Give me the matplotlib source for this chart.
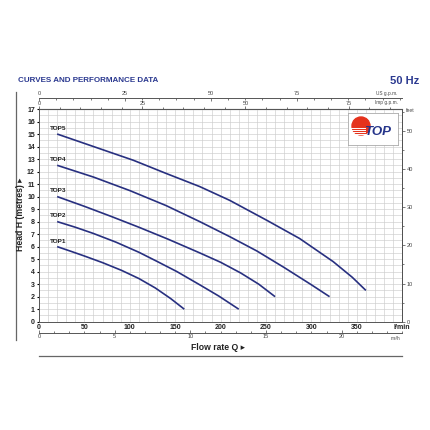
import numpy as np
import matplotlib.pyplot as plt
from matplotlib.lines import Line2D
from matplotlib.patches import Circle

# curve data: flow (l/min), head (m)
top1_q = [20, 35, 50, 70, 91, 110, 128, 145, 160]
top1_h = [6.0, 5.63, 5.25, 4.72, 4.1, 3.45, 2.7, 1.85, 1.0]
top2_q = [20, 40, 60, 85, 110, 130, 152, 177, 198, 220]
top2_h = [8.0, 7.55, 7.05, 6.35, 5.55, 4.82, 4.0, 2.95, 2.05, 1.0]
top3_q = [20, 50, 80, 110, 142, 177, 200, 222, 242, 260]
top3_h = [10.0, 9.22, 8.4, 7.55, 6.6, 5.5, 4.75, 3.9, 3.0, 2.0]
top4_q = [20, 60, 100, 140, 177, 210, 240, 270, 300, 320]
top4_h = [12.5, 11.56, 10.48, 9.28, 8.0, 6.8, 5.65, 4.33, 2.95, 2.0]
top5_q = [20, 60, 104, 140, 177, 210, 251, 287, 324, 345, 360]
top5_h = [15.0, 14.0, 12.9, 11.85, 10.8, 9.7, 8.1, 6.65, 4.8, 3.55, 2.5]

models = ["TOP1", "TOP2", "TOP3", "TOP4", "TOP5"]
curves = [(top1_q, top1_h), (top2_q, top2_h), (top3_q, top3_h),
          (top4_q, top4_h), (top5_q, top5_h)]

lpm_ticks = [0, 50, 100, 150, 200, 250, 300, 350]
head_ticks = list(range(0, 18))
feet_ticks = [0, 10, 20, 30, 40, 50]
usgpm_ticks = [0, 25, 50, 75]
impgpm_ticks = [0, 25, 50, 75]
m3h_ticks = [0, 5, 10, 15, 20]

NAVY = "#283080"
TITLE = "#2b3990"
TXT = "#222222"
W = H = 430


def fx(px):
    return px / W


def fy(py):
    return 1 - py / H


plt.rcParams['font.family'] = ['Liberation Sans', 'DejaVu Sans']
fig = plt.figure(figsize=(4.3, 4.3), dpi=100)
ax = fig.add_axes([fx(39), fy(321.7), fx(402.2) - fx(39), fy(109) - fy(321.7)])
ax.set_xlim(0, 400)
ax.set_ylim(0, 17)

# grid
ax.set_xticks(np.arange(0, 401, 10), minor=True)
ax.set_yticks(np.arange(0, 17.01, 0.5), minor=True)
ax.grid(which='both', color='#cccccc', lw=0.45)
ax.set_axisbelow(True)

ax.set_xticks(lpm_ticks + [400])
ax.set_xticklabels([str(t) for t in lpm_ticks] + ['l/min'], fontsize=5,
                   fontweight='bold', color=TXT)
ax.set_yticks(head_ticks)
ax.set_yticklabels([str(t) for t in head_ticks], fontsize=5,
                   fontweight='bold', color=TXT)
ax.tick_params(which='both', length=0, pad=2)
ax.tick_params(axis='y', which='major', length=1.5, pad=1.5)
for s in ax.spines.values():
    s.set_color('#555555')
    s.set_linewidth(0.7)

for name, (q, h) in zip(models, curves):
    ax.plot(q, h, color=NAVY, lw=1.2, solid_capstyle='butt')
    ax.text(12.5, h[0] + 0.25, name, fontsize=4.6, fontweight='bold',
            color=TXT, ha='left', va='bottom')

# feet on the right
axf = ax.secondary_yaxis('right', functions=(lambda m: m / 0.3048, lambda f: f * 0.3048))
axf.set_yticks(feet_ticks)
axf.set_yticks(np.arange(0, 56, 5), minor=True)
axf.tick_params(which='major', length=2.5, labelsize=4, pad=1, colors='#444444', width=0.5)
axf.tick_params(which='minor', length=1.5, width=0.5, colors='#444444')
axf.spines['right'].set_linewidth(0.7)
fig.text(fx(406), fy(111), 'feet', fontsize=3.6, color='#444444', ha='left', va='center')

# imperial gpm on the top spine
axi = ax.secondary_xaxis('top', functions=(lambda q: q / 4.546, lambda g: g * 4.546))
axi.set_xticks(impgpm_ticks)
axi.set_xticks(np.arange(0, 86, 5), minor=True)
axi.tick_params(which='major', length=2, labelsize=4, pad=0.5, colors='#444444', width=0.5)
axi.tick_params(which='minor', length=1.5, width=0.5, colors='#444444')
fig.text(fx(398), fy(102.5), 'Imp g.p.m.', fontsize=3.4, color='#444444', ha='right', va='center')

# US gpm line above
axu = ax.secondary_xaxis(1.05, functions=(lambda q: q / 3.785, lambda g: g * 3.785))
axu.set_xticks(usgpm_ticks)
axu.set_xticks(np.arange(0, 106, 5), minor=True)
axu.tick_params(which='major', length=2, labelsize=4, pad=1.5, colors='#444444',
                width=0.5, direction='in')
axu.tick_params(which='minor', length=1.5, width=0.5, colors='#444444', direction='in')
axu.spines['top'].set_linewidth(0.7)
axu.spines['top'].set_color('#555555')
fig.text(fx(398), fy(93), 'US g.p.m.', fontsize=3.4, color='#444444', ha='right', va='center')

# m3/h line below
axm = ax.secondary_xaxis(-0.053, functions=(lambda q: q * 0.06, lambda m: m / 0.06))
axm.set_xticks(m3h_ticks)
axm.set_xticks(np.arange(0, 25, 1), minor=True)
axm.tick_params(which='major', length=2, labelsize=4, pad=1, colors='#444444',
                width=0.5, direction='in')
axm.tick_params(which='minor', length=1.5, width=0.5, colors='#444444', direction='in')
axm.spines['bottom'].set_linewidth(0.7)
axm.spines['bottom'].set_color('#555555')
fig.text(fx(400), fy(338.5), 'm³/h', fontsize=3.4, color='#444444', ha='right', va='center')

# frame lines and axis titles
fig.add_artist(Line2D([fx(16), fx(16)], [fy(92), fy(340)], color='#666666', lw=0.9))
fig.add_artist(Line2D([fx(39), fx(402)], [fy(356), fy(356)], color='#666666', lw=0.9))
fig.text(fx(218), fy(348), 'Flow rate Q ▸', fontsize=6.2, fontweight='bold', color=TXT,
         ha='center', va='center')
fig.text(fx(21), fy(214), 'Head H (metres) ▸', fontsize=6.2, fontweight='bold', color=TXT,
         ha='center', va='center', rotation=90)

fig.text(fx(18), fy(81), 'CURVES AND PERFORMANCE DATA', fontsize=5.8, fontweight='bold',
         color=TITLE, ha='left', va='center')
fig.text(fx(419), fy(81), '50 Hz', fontsize=8, fontweight='bold', color=TITLE,
         ha='right', va='center')

# logo box
lg = fig.add_axes([fx(348), fy(145), fx(398) - fx(348), fy(113) - fy(145)])
lg.set_xlim(0, 50)
lg.set_ylim(0, 32)
lg.set_xticks([])
lg.set_yticks([])
for s in lg.spines.values():
    s.set_color('#aaaaaa')
    s.set_linewidth(0.6)
lg.add_patch(Circle((13, 19), 9, color='#e5321c'))
for yy in [10.5, 12.8, 15.1, 17.4]:
    lg.plot([3, 17], [yy, yy], color='white', lw=0.7)
lg.text(16, 12.5, 'TOP', fontsize=9.5, fontweight='bold', fontstyle='italic',
        color='#25348a', ha='left', va='center')

fig.savefig('out.png', dpi=100)
